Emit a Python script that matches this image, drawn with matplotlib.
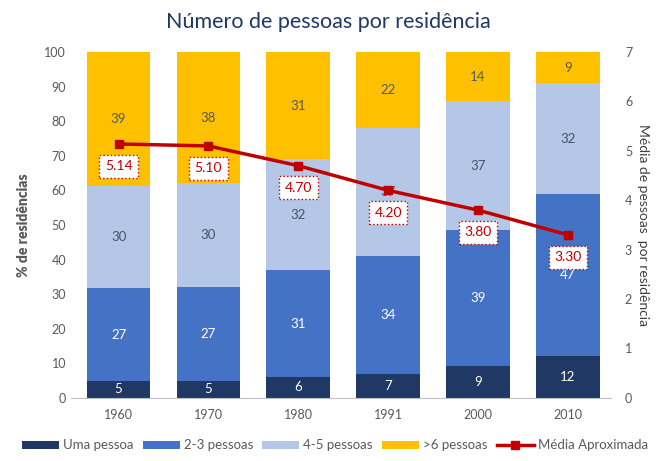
import matplotlib.pyplot as plt
import numpy as np

anos = ['1960', '1970', '1980', '1991', '2000', '2010']
uma_pessoa = [5, 5, 6, 7, 9, 12]
duas_tres = [27, 27, 31, 34, 39, 47]
quatro_cinco = [30, 30, 32, 37, 37, 32]
mais_seis = [39, 38, 31, 22, 14, 9]
media = [5.14, 5.10, 4.70, 4.20, 3.80, 3.30]

series = [
    ('Uma pessoa', uma_pessoa, '#203864', 'white'),
    ('2-3 pessoas', duas_tres, '#4472C4', 'white'),
    ('4-5 pessoas', quatro_cinco, '#B4C7E7', '#44546A'),
    ('>6 pessoas', mais_seis, '#FFC000', '#595959'),
]

plt.rcParams['font.family'] = ['Lato', 'DejaVu Sans']

fig = plt.figure(figsize=(6.57, 4.61), dpi=100)
ax = fig.add_axes([0.108, 0.137, 0.822, 0.75])
x = np.arange(len(anos))

# 100% empilhado: cada ano normalizado pela soma
totais = np.sum([s[1] for s in series], axis=0)
bottom = np.zeros(len(anos))
handles = []
for nome, vals, cor, cor_txt in series:
    h = np.array(vals) / totais * 100
    b = ax.bar(x, h, 0.71, bottom=bottom, color=cor, label=nome, zorder=2)
    handles.append(b)
    for xi, v, hi, bt in zip(x, vals, h, bottom):
        ax.text(xi, bt + hi / 2, str(v), ha='center', va='center',
                color=cor_txt, fontsize=9.5)
    bottom += h

ax.set_ylim(0, 100)
ax.set_xlim(-0.53, 5.48)
ax.set_yticks(range(0, 101, 10))
ax.set_xticks(x)
ax.set_xticklabels(anos)
ax.tick_params(axis='both', length=0, labelsize=9, colors='#595959')
ax.tick_params(axis='x', pad=8)
for s in ['top', 'right', 'left']:
    ax.spines[s].set_visible(False)
ax.spines['bottom'].set_color('#BFBFBF')
ax.set_ylabel('% de residências', fontsize=10, fontweight='heavy', color='#595959', labelpad=10)

ax2 = ax.twinx()
ax2.set_ylim(0, 7)
ax2.set_yticks(range(0, 8))
ax2.tick_params(axis='y', length=0, labelsize=9, colors='#595959', pad=10)
for s in ax2.spines.values():
    s.set_visible(False)
linha, = ax2.plot(x, media, color='#C00000', lw=2.5, marker='s', ms=6,
                  label='Média Aproximada', zorder=5)
for xi, v in zip(x, media):
    ax2.text(xi, v - 0.45, f'{v:.2f}', ha='center', va='center', color='#C00000', fontsize=10,
             bbox=dict(boxstyle='square,pad=0.4', fc='white', ec='#C00000', ls=':', lw=1))
ax2.set_ylabel('Média de pessoas  por residência', fontsize=10, color='#404040',
               rotation=270, labelpad=12)

fig.suptitle('Número de pessoas por residência', y=0.975, fontsize=15.5, color='#1F3864')

fig.legend(handles + [linha], [h.get_label() for h in handles] + ['Média Aproximada'],
           loc='lower center', bbox_to_anchor=(0.51, -0.005), ncol=5, frameon=False,
           fontsize=9.5, handlelength=2.8, handleheight=0.5, columnspacing=0.7,
           handletextpad=0.3, labelcolor='#595959')

fig.savefig('out.png', dpi=100)
